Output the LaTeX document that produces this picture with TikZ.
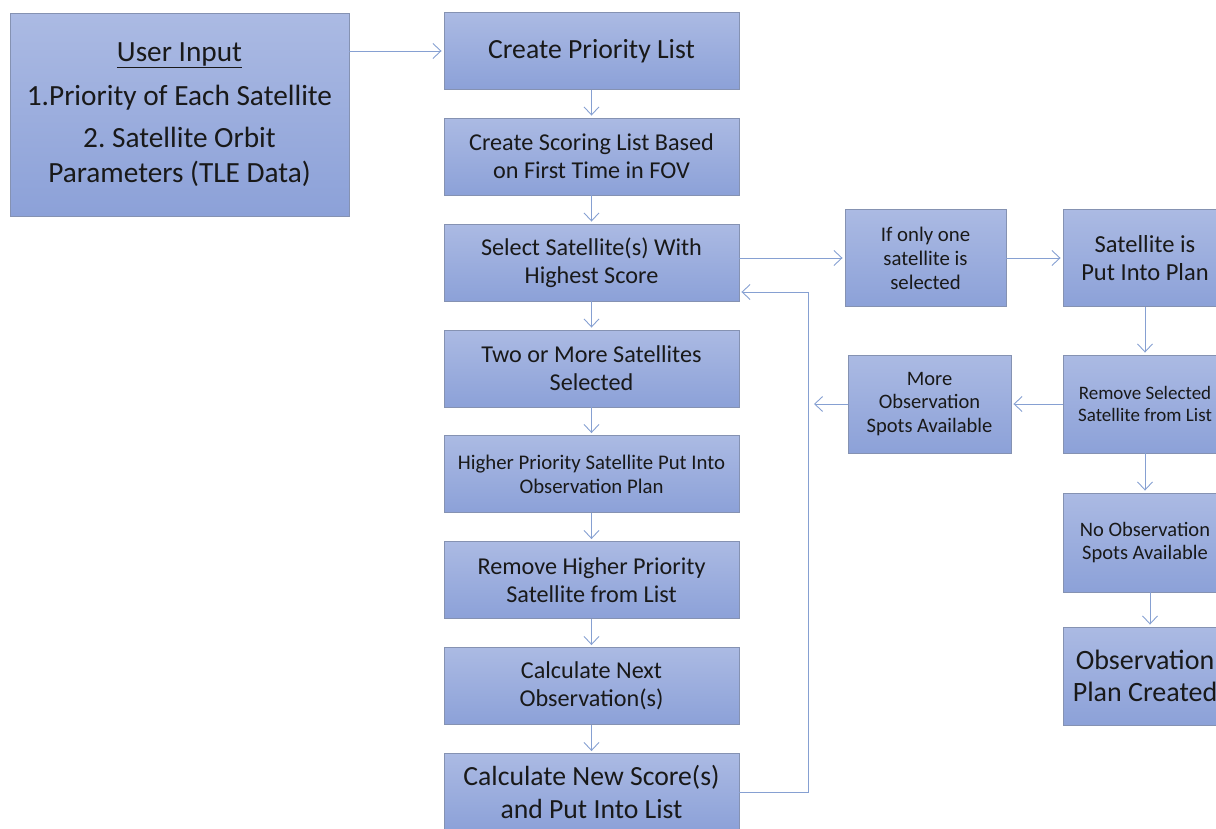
\documentclass[tikz,border=0pt]{standalone}
\usepackage{fontspec}
\setmainfont{Carlito}
\usetikzlibrary{arrows.meta}

\definecolor{boxtop}{HTML}{ABBAE3}
\definecolor{boxbot}{HTML}{8CA1D8}
\definecolor{boxline}{HTML}{8592B2}
\definecolor{linkc}{HTML}{86A0D2}

% font size helper: size in pt, baselineskip scaled
\newcommand{\fsz}[2][1.16]{\fontsize{#2}{\fpeval{#1*#2}}\selectfont\frenchspacing}

\tikzset{
  txt/.style={font=\fsz{#1}},
  flowbox/.style={draw=boxline, line width=0.9pt, top color=boxtop, bottom color=boxbot,
    align=center, inner sep=2pt, text=black!90},
  mainbox/.style={flowbox, minimum width=295pt, minimum height=77pt},
  sidebox/.style={flowbox, minimum width=163pt, minimum height=97pt},
  link/.style={draw=linkc, line width=0.9pt,
    -{Straight Barb[length=8pt,width=15pt,line width=0.9pt]}, shorten >=2pt}
}

\begin{document}
\begin{tikzpicture}[x=1pt,y=-1pt]
\useasboundingbox (0,0) rectangle (1216,828);
\clip (0,0) rectangle (1216,828);

% input block
\node[flowbox, font={\fsz[1.2]{29.3}}, minimum width=339pt, minimum height=203pt] (inp) at (179.5,114.5)
  {\underline{User Input}\\[9pt]1.Priority of Each Satellite\\[7pt]2. Satellite Orbit\\Parameters (TLE Data)};

% main column
\node[mainbox, txt=27.7] (n1) at (591.5,51)    {Create Priority List};
\node[mainbox, txt=24.2] (n2) at (591.5,156.5) {Create Scoring List Based\\on First Time in FOV};
\node[mainbox, txt=24.2] (n3) at (591.5,262.5) {Select Satellite(s) With\\Highest Score};
\node[mainbox, txt=24.2] (n4) at (591.5,368.5) {Two or More Satellites\\Selected};
\node[mainbox, txt=20.8] (n5) at (591.5,474)   {Higher Priority Satellite Put Into\\Observation Plan};
\node[mainbox, txt=24.2] (n6) at (591.5,580)   {Remove Higher Priority\\Satellite from List};
\node[mainbox, txt=24.2] (n7) at (591.5,686)   {Calculate Next\\Observation(s)};
\node[mainbox, txt=27.7] (n8) at (591.5,792)   {Calculate New Score(s)\\and Put Into List};

% right-hand blocks
\node[sidebox, txt=20.8, minimum width=161pt] (one) at (925.5,258) {If only one\\satellite is\\selected};
\node[sidebox, txt=24.5, minimum width=164pt] (plan) at (1145,258) {Satellite is\\Put Into Plan};
\node[sidebox, txt=20.5, minimum height=98pt] (more) at (929.5,404) {More\\Observation\\Spots Available};
\node[sidebox, txt=19, minimum width=164pt, minimum height=98pt] (rem) at (1145,404) {Remove Selected\\Satellite from List};
\node[sidebox, txt=20.5, minimum width=164pt, minimum height=99pt] (nobs) at (1145,542.5) {No Observation\\Spots Available};
\node[sidebox, txt=28, minimum width=164pt, minimum height=98pt] (done) at (1145,676) {Observation\\Plan Created};

% connectors
\draw[link] (inp.east |- n1.west) -- (n1.west);
\draw[link] (n1) -- (n2);
\draw[link] (n2) -- (n3);
\draw[link] (n3) -- (n4);
\draw[link] (n4) -- (n5);
\draw[link] (n5) -- (n6);
\draw[link] (n6) -- (n7);
\draw[link] (n7) -- (n8);

\draw[link] (n3.east |- one.west) -- (one.west);
\draw[link] (one) -- (plan);
\draw[link] (plan) -- (rem);
\draw[link] (rem) -- (more);
\coordinate (moreend) at (812,404);
\draw[link] (more.west) -- (moreend);
\draw[link] (rem) -- (nobs);
\draw[link] ([xshift=5pt]nobs.south) -- ([xshift=5pt]done.north);

% feedback loop to the selection step
\coordinate (loop) at (808,292);
\draw[link] (n8.east) -| (loop) -- (loop -| n3.east);
\end{tikzpicture}
\end{document}
